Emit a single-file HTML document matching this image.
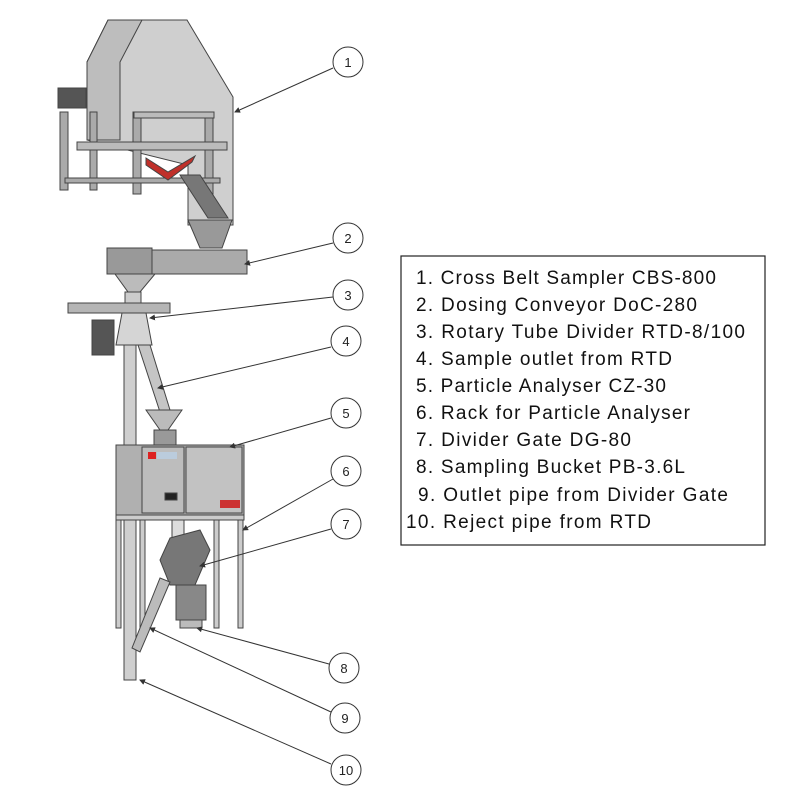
<!DOCTYPE html><html><head><style>body{margin:0;background:#fff}svg{display:block}
.t{font-family:"Liberation Sans",sans-serif;font-size:19px;fill:#111}
.n{font-family:"Liberation Sans",sans-serif;font-size:13px;fill:#222;text-anchor:middle}</style></head><body>
<svg width="800" height="800" viewBox="0 0 800 800">
<defs><marker id="a" markerWidth="6" markerHeight="6" refX="5" refY="3" orient="auto"><path d="M0,0 L6,3 L0,6 z" fill="#333"/></marker></defs>
<g stroke="#444" stroke-width="1">
<polygon points="87,62 108,20 187,20 233,97 233,225 188,225 188,165 87,140" fill="#cfcfcf"/>
<polygon points="87,62 108,20 142,20 120,62 120,140 87,140" fill="#bdbdbd"/>
<rect x="58" y="88" width="28" height="20" fill="#555"/>
<rect x="60" y="112" width="8" height="78" fill="#aaa"/>
<rect x="90" y="112" width="7" height="78" fill="#aaa"/>
<rect x="133" y="112" width="8" height="82" fill="#aaa"/>
<rect x="205" y="112" width="8" height="82" fill="#aaa"/>
<rect x="134" y="112" width="80" height="6" fill="#bbb"/>
<rect x="77" y="142" width="150" height="8" fill="#bbb"/>
<rect x="65" y="178" width="155" height="5" fill="#aaa"/>
<polygon points="146,158 168,172 195,156 192,162 168,180 146,165" fill="#c0302a"/>
<polygon points="180,175 200,175 228,218 208,218" fill="#777"/>
<polygon points="188,220 232,220 222,248 200,248" fill="#999"/>
<rect x="107" y="250" width="140" height="24" fill="#aaa"/>
<rect x="107" y="248" width="45" height="26" fill="#999"/>
<polygon points="115,274 155,274 140,292 128,292" fill="#bbb"/>
<rect x="125" y="292" width="16" height="12" fill="#ccc"/>
<rect x="68" y="303" width="102" height="10" fill="#b5b5b5"/>
<polygon points="122,313 146,313 152,345 116,345" fill="#d5d5d5"/>
<rect x="92" y="320" width="22" height="35" fill="#555"/>
<rect x="124" y="345" width="12" height="335" fill="#cfcfcf"/>
<polygon points="138,345 150,345 170,410 160,412" fill="#c5c5c5"/>
<polygon points="146,410 182,410 168,430 160,430" fill="#bbb"/>
<rect x="154" y="430" width="22" height="16" fill="#999"/>
<rect x="116" y="445" width="128" height="70" fill="#b0b0b0"/>
<rect x="142" y="447" width="42" height="66" fill="#bdbdbd"/>
<rect x="186" y="447" width="56" height="66" fill="#c2c2c2"/>
<rect x="148" y="452" width="8" height="7" fill="#d22" stroke="none"/>
<rect x="157" y="452" width="20" height="7" fill="#bcd" stroke="none"/>
<rect x="220" y="500" width="20" height="8" fill="#c33" stroke="none"/>
<rect x="165" y="493" width="12" height="7" fill="#222"/>
<rect x="116" y="515" width="128" height="5" fill="#ccc"/>
<rect x="116" y="520" width="5" height="108" fill="#ccc"/>
<rect x="140" y="520" width="5" height="108" fill="#ccc"/>
<rect x="214" y="520" width="5" height="108" fill="#ccc"/>
<rect x="238" y="520" width="5" height="108" fill="#ccc"/>
<rect x="172" y="520" width="12" height="20" fill="#ddd"/>
<polygon points="170,538 200,530 210,550 195,585 170,585 160,560" fill="#777"/>
<rect x="176" y="585" width="30" height="35" fill="#888"/>
<rect x="180" y="620" width="22" height="8" fill="#bbb"/>
<polygon points="160,578 170,582 140,652 132,648" fill="#bbb"/>
</g>
<g stroke="#333" stroke-width="1" fill="none">
<line x1="333" y1="68" x2="235" y2="112" marker-end="url(#a)"/>
<line x1="333" y1="243" x2="245" y2="264" marker-end="url(#a)"/>
<line x1="333" y1="297" x2="150" y2="318" marker-end="url(#a)"/>
<line x1="331" y1="347" x2="158" y2="388" marker-end="url(#a)"/>
<line x1="331" y1="418" x2="230" y2="447" marker-end="url(#a)"/>
<line x1="333" y1="479" x2="243" y2="530" marker-end="url(#a)"/>
<line x1="331" y1="529" x2="200" y2="566" marker-end="url(#a)"/>
<line x1="329" y1="664" x2="197" y2="628" marker-end="url(#a)"/>
<line x1="331" y1="712" x2="150" y2="628" marker-end="url(#a)"/>
<line x1="331" y1="764" x2="140" y2="680" marker-end="url(#a)"/>
<g fill="#fff">
<circle cx="348" cy="62" r="15"/><circle cx="348" cy="238" r="15"/><circle cx="348" cy="295" r="15"/>
<circle cx="346" cy="341" r="15"/><circle cx="346" cy="413" r="15"/><circle cx="346" cy="471" r="15"/>
<circle cx="346" cy="524" r="15"/><circle cx="344" cy="668" r="15"/><circle cx="345" cy="718" r="15"/>
<circle cx="346" cy="770" r="15"/></g>
</g>
<g class="n">
<text x="348" y="67">1</text><text x="348" y="243">2</text><text x="348" y="300">3</text>
<text x="346" y="346">4</text><text x="346" y="418">5</text><text x="346" y="476">6</text>
<text x="346" y="529">7</text><text x="344" y="673">8</text><text x="345" y="723">9</text>
<text x="346" y="775">10</text></g>
<rect x="401" y="256" width="364" height="289" fill="none" stroke="#222" stroke-width="1.2"/>
<g class="t">
<text x="416" y="284" textLength="300">1.  Cross Belt Sampler CBS-800</text>
<text x="416" y="311" textLength="281">2.  Dosing Conveyor DoC-280</text>
<text x="416" y="338" textLength="329">3.  Rotary Tube Divider RTD-8/100</text>
<text x="416" y="365" textLength="256">4.  Sample outlet from RTD</text>
<text x="416" y="392" textLength="250">5.  Particle Analyser CZ-30</text>
<text x="416" y="419" textLength="274">6.  Rack for Particle Analyser</text>
<text x="416" y="446" textLength="215">7.  Divider Gate DG-80</text>
<text x="416" y="473" textLength="269">8.  Sampling Bucket PB-3.6L</text>
<text x="418" y="501" textLength="310">9.  Outlet pipe from Divider Gate</text>
<text x="406" y="528" textLength="245">10. Reject pipe from RTD</text>
</g>
</svg></body></html>
